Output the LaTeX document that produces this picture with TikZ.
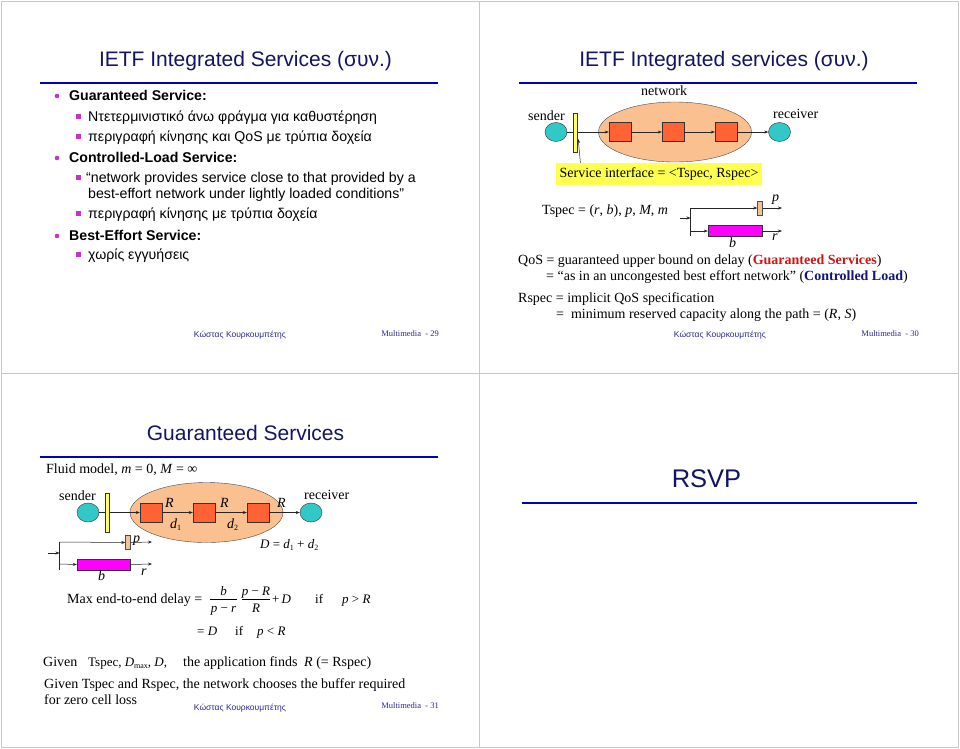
\documentclass[tikz,border=0pt]{standalone}
\usepackage{fontspec}
\setmainfont{Liberation Serif}
\newfontfamily\arial{Liberation Sans}
\usetikzlibrary{shapes.geometric,arrows.meta,calc}
\definecolor{titlec}{RGB}{20,20,100}
\definecolor{bluel}{RGB}{0,0,190}
\definecolor{bulc}{RGB}{200,50,200}
\definecolor{tealc}{RGB}{50,200,200}
\definecolor{peachc}{RGB}{250,192,143}
\definecolor{orangec}{RGB}{255,99,51}
\definecolor{yellowc}{RGB}{255,255,102}
\definecolor{hlc}{RGB}{255,255,80}
\definecolor{tanc}{RGB}{240,195,150}
\definecolor{magc}{RGB}{255,0,255}
\definecolor{redc}{RGB}{210,20,20}
\definecolor{navyb}{RGB}{20,20,120}
\definecolor{footc}{RGB}{40,40,140}
\definecolor{framec}{RGB}{200,200,200}
\newcommand{\mi}[1]{\textit{#1}}
\newcommand{\sbs}[1]{\raisebox{-2.5pt}{\fontsize{8}{8}\selectfont #1}}
\tikzset{
  ttl/.style={font={\arial\fontsize{21}{24}\selectfont}, text=titlec, anchor=base, inner sep=0},
  bl/.style={font={\arial\fontsize{14.15}{16}\selectfont}, anchor=base west, inner sep=0},
  sr/.style={font={\fontsize{14}{16}\selectfont}, anchor=base west, inner sep=0},
  srs/.style={font={\fontsize{13}{15}\selectfont}, anchor=base west, inner sep=0},
  fta/.style={font={\arial\fontsize{8.5}{10}\selectfont}, text=footc, anchor=base, inner sep=0},
  ftm/.style={font={\fontsize{8.5}{10}\selectfont}, text=footc, anchor=base east, inner sep=0},
  tealell/.style={ellipse, draw=black!80, fill=tealc, minimum width=22pt, minimum height=19pt, inner sep=0},
  peachell/.style={ellipse, draw=black!70, fill=peachc, minimum width=153pt, minimum height=60pt, inner sep=0},
  rsq/.style={rectangle, draw=black!80, fill=orangec, minimum width=22pt, minimum height=19pt, inner sep=0},
  ybar/.style={rectangle, draw=black!80, fill=yellowc, minimum width=4pt, minimum height=39pt, inner sep=0},
  pbox/.style={rectangle, draw=black!70, fill=tanc, minimum width=5pt, minimum height=14pt, inner sep=0},
  mbox/.style={rectangle, draw=black!80, fill=magc, minimum width=54pt, minimum height=11pt, inner sep=0},
  arr/.style={-{Stealth[length=4pt,width=3pt]}, line width=0.5pt, draw=black!85},
  ln/.style={line width=0.5pt, draw=black!85},
  blueline/.style={draw=bluel, line width=2.2pt},
  frame/.style={draw=framec, line width=1pt}
}
\begin{document}
\begin{tikzpicture}[x=1pt,y=-1pt]
\useasboundingbox (0,0) rectangle (960,748);
\fill[white] (0,0) rectangle (960,748);
% frames
\draw[frame] (1,1) rectangle (479.5,373);
\draw[frame] (479.5,1) rectangle (958,373);
\draw[frame] (1,373) rectangle (479.5,747);
\draw[frame] (479.5,373) rectangle (958,747);

% ================= Panel 1 =================
\node[ttl] (t1) at (245.5,66) {IETF Integrated Services (συν.)};
\draw[blueline] (40,83) -- (438,83);
\foreach \yy in {100,162,240} {\fill[bulc] (57,\yy-4) circle (2.3);}
\foreach \yy in {121,141,182,218,259} {\fill[bulc] (75.5,\yy-7) rectangle (80.5,\yy-2);}
\node[bl] (a1) at (69,100) {\bfseries Guaranteed Service:};
\node[bl] (a2) at (88,121) {Ντετερμινιστικό άνω φράγμα για καθυστέρηση};
\node[bl] (a3) at (88,141) {περιγραφή κίνησης και QoS με τρύπια δοχεία};
\node[bl] (a4) at (69,162) {\bfseries Controlled-Load Service:};
\node[bl] (a5) at (86,182) {“network provides service close to that provided by a};
\node[bl] (a6) at (88,198) {best-effort network under lightly loaded conditions”};
\node[bl] (a7) at (88,218) {περιγραφή κίνησης με τρύπια δοχεία};
\node[bl] (a8) at (69,240) {\bfseries Best-Effort Service:};
\node[bl] (a9) at (88,259) {χωρίς εγγυήσεις};
\node[fta] (fa1) at (240,337) {Κώστας Κουρκουμπέτης};
\node[ftm] (fm1) at (439,336) {Multimedia\ \ - 29};

% ================= Panel 2 =================
\node[ttl] (t2) at (724,66) {IETF Integrated services (συν.)};
\draw[blueline] (519,83) -- (917,83);
\node[peachell] (net2) at (675,132) {};
\node[tealell] (snd2) at (556,132) {};
\node[rsq] (s21) at (620,132) {};
\node[rsq] (s22) at (673,132) {};
\node[rsq] (s23) at (726,132) {};
\node[tealell] (rcv2) at (779.5,132) {};
\draw[arr] (snd2.east) -- (s21.west);
\draw[arr] (s21.east) -- (s22.west);
\draw[arr] (s22.east) -- (s23.west);
\draw[arr] (s23.east) -- (rcv2.west);
\node[ybar] (bar2) at (575,132.5) {};
\node[sr] (lnet2) at (641,95) {network};
\node[sr] (lsnd2) at (528,120) {sender};
\node[sr] (lrcv2) at (773,118) {receiver};
\node[fill=hlc, inner xsep=4pt, minimum height=22pt, font={\fontsize{14}{16}\selectfont}] (si) at (659,174) {Service interface = <Tspec, Rspec>};
\coordinate (siTop) at ($(si.north west)+(25,0)$);
\coordinate (barPt) at ($(bar2.east)+(1,6.5)$);
\draw[arr] (siTop) -- (barPt);
\node[sr] (tsp2) at (542,214) {Tspec = (\mi{r}, \mi{b}), \mi{p}, \mi{M}, \mi{m}};
% Tspec diagram
\coordinate (in2a) at (680,218);
\coordinate (in2b) at (690.5,218);
\coordinate (v2t) at (690.5,208);
\coordinate (v2b) at (690.5,236);
\coordinate (v2m) at (690.5,231);
\coordinate (o2t) at (782,208);
\coordinate (o2b) at (782,231);
\node[pbox] (pb2) at (760,208) {};
\node[mbox] (mb2) at (735,231) {};
\draw[ln] (v2t) -- (v2b);
\draw[arr] (in2a) -- (in2b);
\draw[arr] (v2t) -- (pb2.west);
\draw[arr] (pb2.east) -- (o2t);
\draw[arr] (v2m) -- (mb2.west);
\draw[arr] (mb2.east) -- (o2b);
\node[sr] (lp2) at (772,201) {\mi{p}};
\node[sr] (lr2) at (772,240) {\mi{r}};
\node[sr] (lb2) at (729,247) {\mi{b}};
\node[sr] (q1) at (518,264) {QoS = guaranteed upper bound on delay (\textbf{\textcolor{redc}{Guaranteed Services}})};
\node[sr] (q2) at (546,280) {= “as in an uncongested best effort network” (\textbf{\textcolor{navyb}{Controlled Load}})};
\node[sr] (q3) at (518,302) {Rspec = implicit QoS specification};
\node[sr] (q4) at (556,318) {=\ \ minimum reserved capacity along the path = (\mi{R}, \mi{S})};
\node[fta] (fa2) at (720,337) {Κώστας Κουρκουμπέτης};
\node[ftm] (fm2) at (919,336) {Multimedia\ \ - 30};

% ================= Panel 3 =================
\node[ttl] (t3) at (245.5,440) {Guaranteed Services};
\draw[blueline] (40,457) -- (438,457);
\node[sr] (fl) at (46,473) {Fluid model, \mi{m} = 0, \mi{M} = ∞};
\node[peachell] (net3) at (206.5,512.5) {};
\node[tealell] (snd3) at (88,512.5) {};
\node[rsq] (s31) at (151,512.5) {};
\node[rsq] (s32) at (204,512.5) {};
\node[rsq] (s33) at (258,512.5) {};
\node[tealell] (rcv3) at (311,512.5) {};
\draw[arr] (snd3.east) -- (s31.west);
\draw[arr] (s31.east) -- (s32.west);
\draw[arr] (s32.east) -- (s33.west);
\draw[arr] (s33.east) -- (rcv3.west);
\node[ybar] (bar3) at (107,512.5) {};
\node[sr] (lsnd3) at (59,500) {sender};
\node[sr] (lrcv3) at (304,499) {receiver};
\node[sr] (lR1) at (165,507) {\mi{R}};
\node[sr] (lR2) at (220,507) {\mi{R}};
\node[sr] (lR3) at (277,507) {\mi{R}};
\node[sr] (ld1) at (170,528) {\mi{d}\sbs{1}};
\node[sr] (ld2) at (227,528) {\mi{d}\sbs{2}};
\node[srs] (lD) at (260,548) {\mi{D} = \mi{d}\sbs{1} + \mi{d}\sbs{2}};
% Tspec diagram
\coordinate (in3a) at (48,553);
\coordinate (in3b) at (59.5,553);
\coordinate (v3t) at (59.5,542);
\coordinate (v3b) at (59.5,570);
\coordinate (v3m) at (59.5,564);
\coordinate (o3t) at (152,542);
\coordinate (o3b) at (152,564);
\node[pbox] (pb3) at (128,542.5) {};
\node[mbox, minimum width=53pt] (mb3) at (103.5,564.5) {};
\draw[ln] (v3t) -- (v3b);
\draw[arr] (in3a) -- (in3b);
\draw[arr] (v3t) -- (pb3.west);
\draw[arr] (pb3.east) -- (o3t);
\draw[arr] (v3m) -- (mb3.west);
\draw[arr] (mb3.east) -- (o3b);
\node[sr] (lp3) at (133,542) {\mi{p}};
\node[sr] (lr3) at (141,575) {\mi{r}};
\node[sr] (lb3) at (98,580) {\mi{b}};
% formula
\node[sr] (mx) at (67,603) {Max end-to-end delay =};
\node[srs, anchor=base] (f1n) at (223.5,595) {\mi{b}};
\node[srs, anchor=base] (f1d) at (223.5,612) {\mi{p} − \mi{r}};
\draw[line width=0.6pt] (210,599) -- (237,599);
\node[srs, anchor=base] (f2n) at (256,595) {\mi{p} − \mi{R}};
\node[srs, anchor=base] (f2d) at (256,612) {\mi{R}};
\draw[line width=0.6pt] (242,599) -- (270,599);
\node[srs] (pD) at (272,603) {+\,\mi{D}};
\node[srs] (if1) at (315,603) {if};
\node[srs] (cnd1) at (342,603) {\mi{p} > \mi{R}};
\node[srs] (eqD) at (197,635) {= \mi{D}};
\node[srs] (if2) at (235,635) {if};
\node[srs] (cnd2) at (257,635) {\mi{p} < \mi{R}};
\node[sr] (g1) at (43,666) {Given};
\node[srs] (g2) at (88,666) {Tspec, \mi{D}\sbs{max}, \mi{D},};
\node[sr] (g3) at (183,666) {the application finds};
\node[sr] (g4) at (304,666) {\mi{R} (= Rspec)};
\node[sr] (g5) at (44,688) {Given Tspec and Rspec, the network chooses the buffer required};
\node[sr] (g6) at (44,704) {for zero cell loss};
\node[fta] (fa3) at (240,710) {Κώστας Κουρκουμπέτης};
\node[ftm] (fm3) at (439,708) {Multimedia\ \ - 31};

% ================= Panel 4 =================
\node[ttl, font={\arial\fontsize{25.5}{28}\selectfont}] (t4) at (706.5,487) {RSVP};
\draw[blueline] (522,503) -- (917,503);
\end{tikzpicture}
\end{document}
